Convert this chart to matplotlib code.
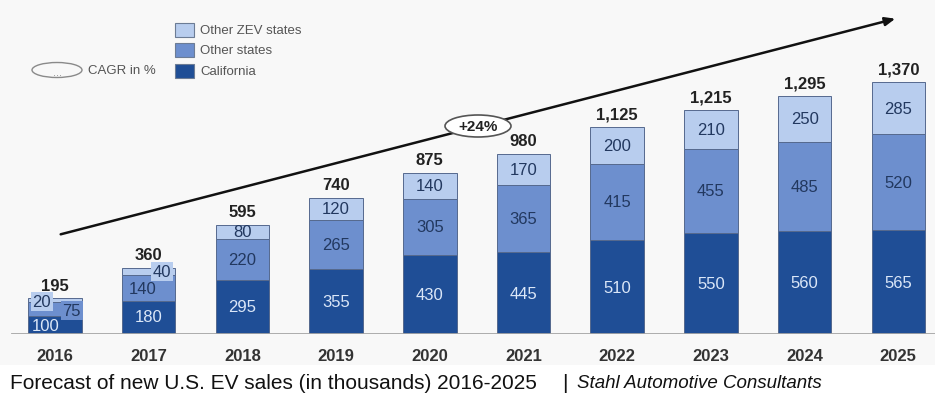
import matplotlib.pyplot as plt
from matplotlib.patches import Ellipse, Rectangle

plt.rcParams['font.family'] = ['Liberation Sans', 'DejaVu Sans']

years = ['2016', '2017', '2018', '2019', '2020', '2021', '2022', '2023', '2024', '2025']
california = [100, 180, 295, 355, 430, 445, 510, 550, 560, 565]
other_states = [75, 140, 220, 265, 305, 365, 415, 455, 485, 520]
other_zev = [20, 40, 80, 120, 140, 170, 200, 210, 250, 285]
cagr_label = '+24%'

c_cal = '#1f4e96'
c_oth = '#6d8fce'
c_zev = '#b8cdee'
dark_txt = '#22385f'
light_txt = '#dbe7f8'

W, H = 935, 402
fig = plt.figure(figsize=(W / 100, H / 100), dpi=100)
fig.patch.set_facecolor('white')


def fx(px):
    return px / W


def fy(py):
    # pixel rows are counted from the top
    return 1 - py / H


# faint grey panel behind the chart
fig.patches.append(Rectangle((0, fy(366)), 1, 1 - fy(366), transform=fig.transFigure,
                             facecolor='#f8f8f8', edgecolor='none', zorder=-5))

ax = fig.add_axes([0, fy(335), 1, 1 - fy(335)])
ax.set_facecolor('none')
step = 93.7
x0 = 55
ax.set_xlim(-x0 / step, (W - x0) / step)
ax.set_ylim(0, 335 / 0.184)
ax.axis('off')

xs = list(range(len(years)))
bw = 0.57
edge = dict(edgecolor='#55698e', linewidth=0.7)
ax.bar(xs, california, bw, color=c_cal, **edge, zorder=2)
ax.bar(xs, other_states, bw, bottom=california, color=c_oth, **edge, zorder=2)
bottom_zev = [a + b for a, b in zip(california, other_states)]
ax.bar(xs, other_zev, bw, bottom=bottom_zev, color=c_zev, **edge, zorder=2)

ax.axhline(0, xmin=12 / W, xmax=1, color='#a5a5a5', lw=2, zorder=3)

seg_font = dict(fontsize=12, ha='center', va='center', zorder=4)
for i in xs:
    total = california[i] + other_states[i] + other_zev[i]
    ax.annotate(f'{total:,}', (i, total), xytext=(0, 4), textcoords='offset points',
                ha='center', va='bottom', fontsize=12, fontweight='bold', color='#222222')
    ax.annotate(years[i], (i, 0), xytext=(0, -10), textcoords='offset points',
                ha='center', va='top', fontsize=12, fontweight='bold', color='#333333',
                annotation_clip=False)
    if i >= 2:
        ax.text(i, california[i] / 2, str(california[i]), color=light_txt, **seg_font)
        ax.text(i, california[i] + other_states[i] / 2, str(other_states[i]),
                color=dark_txt, **seg_font)
        ax.text(i, bottom_zev[i] + other_zev[i] / 2, str(other_zev[i]),
                color=dark_txt, **seg_font)

# the two short bars get their labels in small boxes around the bar
box = lambda c: dict(boxstyle='square,pad=0.12', facecolor=c, edgecolor='none')
ax.text(-0.1, 45, str(california[0]), color=light_txt, **seg_font)
ax.text(0.18, 128, str(other_states[0]), color=dark_txt, bbox=box(c_oth), **seg_font)
ax.text(-0.14, 178, str(other_zev[0]), color=dark_txt, bbox=box(c_zev), **seg_font)
ax.text(1, 95, str(california[1]), color=light_txt, **seg_font)
ax.text(0.93, 250, str(other_states[1]), color=dark_txt, bbox=box(c_oth), **seg_font)
ax.text(1.14, 342, str(other_zev[1]), color=dark_txt, bbox=box(c_zev), **seg_font)

# growth arrow with the CAGR bubble
ax.annotate('', xy=(fx(898), fy(19)), xytext=(fx(58), fy(236)),
            xycoords='figure fraction', textcoords='figure fraction',
            arrowprops=dict(arrowstyle='-|>,head_length=0.6,head_width=0.25',
                            color='#111111', lw=1.8), zorder=5, annotation_clip=False)
fig.patches.append(Ellipse((fx(478), fy(127)), fx(66), 22 / H, transform=fig.transFigure,
                           facecolor='white', edgecolor='#555555', lw=1.2, zorder=6))
fig.text(fx(478), fy(127), cagr_label, ha='center', va='center', fontsize=11,
         fontweight='bold', color='#222222', zorder=7)

# legend
legend_items = [('Other ZEV states', c_zev, 31), ('Other states', c_oth, 51),
                ('California', c_cal, 72)]
for label, col, yc in legend_items:
    fig.patches.append(Rectangle((fx(175), fy(yc + 7)), fx(19), 14 / H,
                                 transform=fig.transFigure, facecolor=col,
                                 edgecolor='#6c7c95', lw=0.8))
    fig.text(fx(200), fy(yc), label, ha='left', va='center', fontsize=9.5, color='#555555')
fig.patches.append(Ellipse((fx(57), fy(71)), fx(50), 15 / H, transform=fig.transFigure,
                           facecolor='none', edgecolor='#8a8a8a', lw=1))
fig.text(fx(57), fy(73), '...', ha='center', va='center', fontsize=8, color='#8a8a8a')
fig.text(fx(88), fy(71), 'CAGR in %', ha='left', va='center', fontsize=9.5, color='#555555')

# caption
fig.text(fx(10), fy(384), 'Forecast of new U.S. EV sales (in thousands) 2016-2025',
         ha='left', va='center', fontsize=15, color='#111111')
fig.text(fx(565), fy(384), '|', ha='center', va='center', fontsize=15, color='#111111')
fig.text(fx(577), fy(384), 'Stahl Automotive Consultants', ha='left', va='center',
         fontsize=13.5, style='italic', color='#111111')

fig.savefig('out.png', dpi=100)
